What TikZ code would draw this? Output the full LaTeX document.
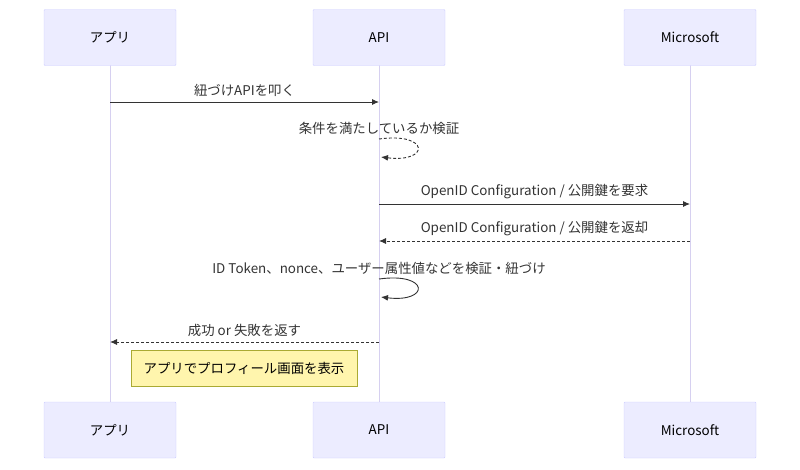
\documentclass[tikz,border=0pt]{standalone}
\usepackage{fontspec}
\setmainfont{Noto Sans CJK JP}
\usetikzlibrary{arrows.meta,positioning,calc}
\definecolor{actorfill}{RGB}{236,236,255}
\definecolor{actorline}{RGB}{204,204,255}
\definecolor{lifeline}{RGB}{214,208,240}
\definecolor{notefill}{RGB}{255,245,173}
\definecolor{noteline}{RGB}{170,170,51}
\definecolor{msgcolor}{RGB}{51,51,51}
\tikzstyle{actor}=[rectangle,draw=actorline,fill=actorfill,minimum width=132pt,minimum height=56pt,inner sep=0pt,font=\fontsize{13.4}{16}\selectfont,rounded corners=1pt]
\tikzstyle{msg}=[-{Latex[length=7pt,width=6pt]},line width=0.9pt,msgcolor]
\tikzstyle{reply}=[msg,dash pattern=on 3pt off 2pt]
\tikzstyle{msglabel}=[font=\fontsize{13.4}{16}\selectfont,text=msgcolor,inner sep=0pt]
\tikzstyle{note}=[rectangle,draw=noteline,fill=notefill,minimum width=226pt,minimum height=36pt,font=\fontsize{13.4}{16}\selectfont]
\begin{document}
\begin{tikzpicture}[x=1pt,y=-1pt]
\useasboundingbox (0,0) rectangle (800,469);
\def\topy{37.5}
\def\boty{430}

	% Participants
    \foreach \name / \x / \txt in {app/110/アプリ, api/379/API, ms/690/Microsoft}
    {
        \draw[lifeline,line width=0.9pt] (\x,\topy) -- (\x,\boty);
        \node[actor] (\name-top) at (\x,\topy) {\txt};
        \node[actor] (\name-bot) at (\x,\boty) {\txt};
        \coordinate (\name-1) at (\x,102);
        \coordinate (\name-3) at (\x,204);
        \coordinate (\name-4) at (\x,241);
        \coordinate (\name-6) at (\x,342);
    }

	% Messages
    \draw[msg] (app-1) -- node[msglabel,above=5pt]{紐づけAPIを叩く} (api-1);
    \coordinate (loopA-s) at (379,139);
    \coordinate (loopA-e) at (381,157);
    \node[msglabel] (loopA-l) at (379,128) {条件を満たしているか検証};
    \draw[reply] (loopA-s) .. controls (430,132) and (430,163) .. (loopA-e);

    \draw[msg] (api-3) -- node[msglabel,above=5pt]{OpenID Configuration / 公開鍵を要求} (ms-3);
    \draw[reply] (ms-4) -- node[msglabel,above=5pt]{OpenID Configuration / 公開鍵を返却} (api-4);

    \coordinate (loopB-s) at (379,279);
    \coordinate (loopB-e) at (381,297);
    \node[msglabel] (loopB-l) at (379,268) {ID Token、nonce、ユーザー属性値などを検証・紐づけ};
    \draw[msg] (loopB-s) .. controls (430,272) and (430,303) .. (loopB-e);

    \draw[reply] (api-6) -- node[msglabel,above=5pt]{成功 or 失敗を返す} (app-6);

	% Note
    \node[note] (note) at (244,368) {アプリでプロフィール画面を表示};
\end{tikzpicture}
\end{document}
